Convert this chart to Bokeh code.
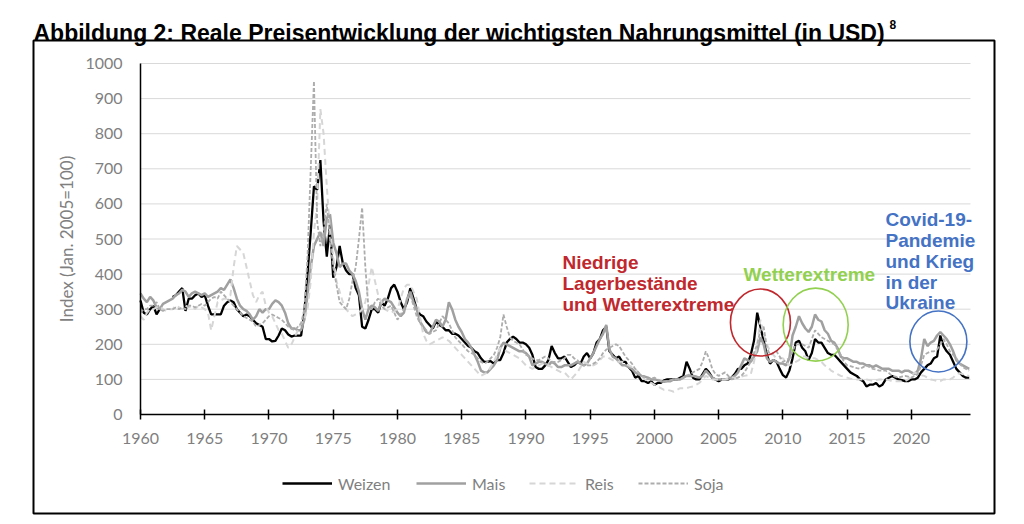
import numpy as np
from bokeh.plotting import figure
from bokeh.models import (Range1d, FixedTicker, Label, BoxAnnotation, Legend,
                          LegendItem, ColumnDataSource)
from bokeh.embed import file_html
from bokeh.resources import INLINE

NaN = float("nan")

# quarterly observations, starting 1960 Q1 (step 0.25 year), ending mid 2024
START_YEAR = 1960
STEP = 0.25

weizen = [
    325, 290, 285, 300,   # 1960
    310, 285, 300, NaN,   # 1961
    NaN, NaN, 335, 340,   # 1962
    350, 360, 295, 330,   # 1963
    330, 340, 345, 335,   # 1964
    340, 310, 285, 285,   # 1965
    285, 285, 310, 320,   # 1966
    325, 320, 300, 290,   # 1967
    280, 285, 280, 270,   # 1968
    260, 255, 250, 215,   # 1969
    215, 208, 210, 225,   # 1970
    245, 240, 228, 222,   # 1971
    225, 225, 225, 290,   # 1972
    400, 520, 650, 640,   # 1973
    725, 550, 450, 540,   # 1974
    390, 420, 480, 430,   # 1975
    410, 400, 400, 360,   # 1976
    340, 250, 245, 270,   # 1977
    300, 300, 290, 320,   # 1978
    310, 330, 360, 370,   # 1979
    350, 320, 300, 320,   # 1980
    360, 330, 300, 285,   # 1981
    280, 265, 255, 245,   # 1982
    265, 255, 250, 240,   # 1983
    240, 230, 230, 225,   # 1984
    215, 205, 195, 190,   # 1985
    180, 175, 160, 150,   # 1986
    150, 152, 145, 155,   # 1987
    155, 175, 205, 215,   # 1988
    222, 215, 205, 205,   # 1989
    200, 190, 170, 135,   # 1990
    130, 130, 140, 155,   # 1991
    195, 175, 160, 160,   # 1992
    165, 150, 135, 140,   # 1993
    150, 145, 165, 175,   # 1994
    160, 175, 205, 215,   # 1995
    240, 250, 180, 170,   # 1996
    160, 165, 150, 150,   # 1997
    135, 125, 105, 110,   # 1998
    95, 95, 90, 95,       # 1999
    85, 90, 90, 97,       # 2000
    100, 100, 100, 100,   # 2001
    105, 110, 150, 130,   # 2002
    105, 100, 100, 115,   # 2003
    130, 120, 105, 100,   # 2004
    95, 100, 100, 100,    # 2005
    105, 115, 130, 130,   # 2006
    140, 145, 170, 210,   # 2007
    290, 250, 210, 170,   # 2008
    145, 155, 150, 130,   # 2009
    112, 105, 125, 160,   # 2010
    205, 210, 190, 180,   # 2011
    155, 175, 215, 205,   # 2012
    205, 190, 175, 170,   # 2013
    170, 160, 150, 140,   # 2014
    130, 120, 115, 110,   # 2015
    100, 95, 80, 85,      # 2016
    85, 90, 80, 85,       # 2017
    100, 105, 110, 105,   # 2018
    100, 98, 95, 95,      # 2019
    100, 100, 105, 120,   # 2020
    130, 140, 145, 160,   # 2021
    165, 225, 195, 180,   # 2022
    170, 150, 130, 120,   # 2023
    110, 105, 105,        # 2024
]

mais = [
    345, 330, 320, 335,   # 1960
    325, 305, 300, 315,   # 1961
    320, 325, 330, 340,   # 1962
    345, 355, 350, 335,   # 1963
    345, 350, 345, 340,   # 1964
    345, 335, 340, 345,   # 1965
    350, 360, 355, 370,   # 1966
    385, 360, 330, 310,   # 1967
    300, 295, 285, 270,   # 1968
    280, 300, 290, 300,   # 1969
    300, 315, 325, 320,   # 1970
    310, 290, 260, 245,   # 1971
    245, 240, 240, 270,   # 1972
    340, 420, 480, 500,   # 1973
    520, 480, 560, 570,   # 1974
    490, 460, 420, 430,   # 1975
    430, 410, 400, 380,   # 1976
    350, 300, 270, 300,   # 1977
    310, 305, 295, 320,   # 1978
    330, 325, 320, 305,   # 1979
    290, 280, 290, 330,   # 1980
    350, 320, 300, 265,   # 1981
    250, 235, 230, 250,   # 1982
    270, 265, 250, 270,   # 1983
    320, 300, 270, 250,   # 1984
    235, 215, 205, 190,   # 1985
    170, 150, 125, 120,   # 1986
    120, 130, 140, 155,   # 1987
    190, 205, 200, 195,   # 1988
    190, 185, 180, 180,   # 1989
    175, 165, 140, 145,   # 1990
    150, 150, 145, 140,   # 1991
    150, 145, 135, 135,   # 1992
    140, 140, 140, 145,   # 1993
    150, 145, 140, 145,   # 1994
    160, 175, 195, 215,   # 1995
    230, 255, 185, 165,   # 1996
    160, 150, 140, 140,   # 1997
    135, 130, 120, 115,   # 1998
    110, 108, 105, 100,   # 1999
    100, 98, 95, 93,      # 2000
    95, 95, 100, 100,     # 2001
    100, 105, 110, 110,   # 2002
    110, 108, 105, 110,   # 2003
    125, 115, 105, 100,   # 2004
    100, 100, 100, 102,   # 2005
    105, 110, 120, 140,   # 2006
    160, 155, 150, 165,   # 2007
    180, 220, 200, 160,   # 2008
    150, 155, 150, 145,   # 2009
    145, 140, 160, 225,   # 2010
    250, 280, 260, 245,   # 2011
    235, 250, 285, 270,   # 2012
    265, 240, 230, 210,   # 2013
    205, 190, 165, 160,   # 2014
    160, 155, 150, 150,   # 2015
    145, 145, 140, 140,   # 2016
    135, 140, 135, 130,   # 2017
    130, 130, 125, 125,   # 2018
    125, 120, 125, 125,   # 2019
    120, 115, 125, 160,   # 2020
    215, 195, 205, 210,   # 2021
    225, 235, 225, 215,   # 2022
    200, 180, 155, 145,   # 2023
    140, 135, 130,        # 2024
]

reis = [
    280, 270, 290, 300,   # 1960
    300, 305, 310, 300,   # 1961
    295, 300, 300, 310,   # 1962
    305, 300, 310, 305,   # 1963
    310, 300, 310, 305,   # 1964
    300, 290, 240, 280,   # 1965
    320, 325, 330, 330,   # 1966
    340, 420, 480, 470,   # 1967
    460, 420, 380, 340,   # 1968
    320, 340, 350, 310,   # 1969
    290, 280, 260, 240,   # 1970
    230, 210, 190, 200,   # 1971
    220, 240, 260, 270,   # 1972
    300, 380, 520, 600,   # 1973
    870, 800, 650, 520,   # 1974
    450, 380, 350, 320,   # 1975
    300, 290, 280, 285,   # 1976
    290, 300, 320, 370,   # 1977
    420, 380, 340, 320,   # 1978
    300, 295, 290, 295,   # 1979
    300, 330, 360, 370,   # 1980
    370, 350, 330, 280,   # 1981
    230, 210, 200, 205,   # 1982
    210, 215, 220, 215,   # 1983
    210, 200, 190, 180,   # 1984
    170, 160, 150, 140,   # 1985
    130, 120, 110, 115,   # 1986
    120, 135, 150, 170,   # 1987
    190, 185, 180, 175,   # 1988
    170, 165, 160, 150,   # 1989
    140, 135, 130, 135,   # 1990
    140, 145, 145, 140,   # 1991
    135, 130, 125, 120,   # 1992
    120, 110, 100, 110,   # 1993
    120, 135, 150, 145,   # 1994
    140, 140, 145, 155,   # 1995
    165, 165, 160, 155,   # 1996
    150, 150, 150, 145,   # 1997
    140, 135, 130, 120,   # 1998
    110, 100, 95, 90,     # 1999
    85, 80, 75, 70,       # 2000
    70, 68, 65, 70,       # 2001
    75, 75, 75, 78,       # 2002
    80, 85, 90, 100,      # 2003
    110, 105, 100, 100,   # 2004
    100, 100, 100, 102,   # 2005
    105, 105, 105, 108,   # 2006
    110, 112, 115, 150,   # 2007
    200, 270, 230, 200,   # 2008
    180, 170, 160, 160,   # 2009
    160, 150, 140, 145,   # 2010
    150, 155, 165, 165,   # 2011
    160, 160, 160, 155,   # 2012
    150, 140, 135, 125,   # 2013
    120, 115, 110, 108,   # 2014
    105, 102, 100, 100,   # 2015
    100, 100, 100, 98,    # 2016
    95, 98, 100, 100,     # 2017
    100, 98, 95, 95,      # 2018
    95, 95, 95, 100,      # 2019
    110, 120, 115, 112,   # 2020
    110, 105, 100, 98,    # 2021
    95, 95, 100, 100,     # 2022
    100, 105, 115, 118,   # 2023
    115, 112, 110,        # 2024
]

soja = [
    290, 300, 300, 310,   # 1960
    310, 320, 300, 295,   # 1961
    300, 300, 300, 305,   # 1962
    300, 305, 300, 310,   # 1963
    310, 305, 310, 315,   # 1964
    310, 320, 330, 335,   # 1965
    330, 350, 340, 330,   # 1966
    320, 310, 300, 290,   # 1967
    280, 275, 270, 265,   # 1968
    250, 255, 260, 270,   # 1969
    280, 285, 280, 275,   # 1970
    270, 260, 250, 245,   # 1971
    240, 250, 260, 300,   # 1972
    450, 700, 950, 550,   # 1973
    480, 520, 600, 500,   # 1974
    420, 370, 320, 310,   # 1975
    300, 330, 380, 420,   # 1976
    500, 590, 420, 300,   # 1977
    300, 320, 330, 310,   # 1978
    300, 305, 310, 290,   # 1979
    270, 285, 300, 330,   # 1980
    340, 310, 280, 260,   # 1981
    250, 240, 230, 235,   # 1982
    240, 260, 280, 270,   # 1983
    260, 240, 220, 210,   # 1984
    200, 190, 180, 175,   # 1985
    170, 160, 150, 145,   # 1986
    150, 160, 170, 190,   # 1987
    220, 285, 250, 220,   # 1988
    210, 205, 200, 185,   # 1989
    170, 165, 160, 155,   # 1990
    155, 160, 165, 160,   # 1991
    150, 150, 150, 155,   # 1992
    160, 170, 170, 160,   # 1993
    155, 145, 140, 140,   # 1994
    140, 145, 150, 160,   # 1995
    175, 185, 190, 195,   # 1996
    200, 195, 180, 165,   # 1997
    155, 145, 130, 120,   # 1998
    110, 105, 100, 102,   # 1999
    105, 100, 95, 95,     # 2000
    95, 98, 100, 100,     # 2001
    100, 105, 110, 115,   # 2002
    120, 125, 130, 150,   # 2003
    180, 160, 130, 115,   # 2004
    110, 115, 120, 110,   # 2005
    100, 102, 105, 110,   # 2006
    120, 135, 150, 175,   # 2007
    200, 240, 250, 190,   # 2008
    170, 175, 180, 165,   # 2009
    150, 155, 160, 180,   # 2010
    200, 200, 200, 195,   # 2011
    190, 215, 240, 230,   # 2012
    220, 215, 210, 205,   # 2013
    200, 185, 170, 150,   # 2014
    140, 138, 135, 132,   # 2015
    130, 135, 140, 135,   # 2016
    130, 128, 125, 125,   # 2017
    125, 118, 110, 108,   # 2018
    105, 108, 110, 108,   # 2019
    105, 110, 115, 140,   # 2020
    170, 175, 180, 180,   # 2021
    185, 200, 215, 200,   # 2022
    180, 170, 160, 145,   # 2023
    135, 130, 125,        # 2024
]

series_names = ["Weizen", "Mais", "Reis", "Soja"]
x_ticks = [1960, 1965, 1970, 1975, 1980, 1985, 1990, 1995, 2000, 2005, 2010, 2015, 2020]
y_ticks = [0, 100, 200, 300, 400, 500, 600, 700, 800, 900, 1000]
x_span = (1960, 2024.6)
y_span = (0, 1000)

title_text = "Abbildung 2: Reale Preisentwicklung der wichtigsten Nahrungsmittel (in USD)"
footnote = "8"
y_label = "Index (Jan. 2005=100)"

red_lines = ["Niedrige", "Lagerbestände", "und Wetterextreme"]
green_lines = ["Wetterextreme"]
blue_lines = ["Covid-19-", "Pandemie", "und Krieg", "in der", "Ukraine"]

# highlighted episodes (centre year, centre index value)
circle_x = [2008.25, 2012.55, 2022.1]
circle_y = [262, 256, 208]

# ---------------- layout (pixels on the page) ----------------
W, H = 1010, 520
PL, PR, PT, PB = 140, 970, 63, 414      # plot area inside the chart box

def sx(px):            # page x -> screen units of the (full-canvas) frame
    return px

def sy(py):            # page y (top-down) -> screen units (bottom-up)
    return H - py

x_scale = (PR - PL) / (x_span[1] - x_span[0])
y_scale = (PB - PT) / (y_span[1] - y_span[0])
x_range = Range1d(x_span[0] - PL / x_scale, x_span[1] + (W - PR) / x_scale)
y_range = Range1d(y_span[0] - (H - PB) / y_scale, y_span[1] + PT / y_scale)

years = START_YEAR + STEP * np.arange(len(weizen))

SANS = "Lato"
GREY = "#7f7f7f"

p = figure(width=W, height=H, output_backend="svg", toolbar_location=None,
           x_range=x_range, y_range=y_range,
           min_border_left=0, min_border_right=0, min_border_top=0,
           min_border_bottom=0)
p.outline_line_color = None
p.background_fill_color = "white"
p.border_fill_color = "white"
p.xgrid.visible = False
p.ygrid.visible = False

# horizontal grid lines, limited to the plot area
grid_vals = y_ticks[1:]
p.segment(x0=[x_span[0]] * len(grid_vals), x1=[x_span[1]] * len(grid_vals),
          y0=grid_vals, y1=grid_vals, line_color="#d9d9d9", line_width=1)

# axes drawn at fixed locations inside the canvas
p.yaxis.fixed_location = x_span[0]
p.yaxis.bounds = y_span
p.yaxis.ticker = FixedTicker(ticks=y_ticks)
p.yaxis.axis_line_color = "black"
p.yaxis.axis_line_width = 1.5
p.yaxis.major_tick_in = 0
p.yaxis.major_tick_out = 0
p.yaxis.minor_tick_line_color = None
p.yaxis.major_label_text_font = SANS
p.yaxis.major_label_text_font_size = "16px"
p.yaxis.major_label_text_color = GREY
p.yaxis.major_label_standoff = 18
p.yaxis.axis_label = y_label
p.yaxis.axis_label_text_font = SANS
p.yaxis.axis_label_text_font_size = "17px"
p.yaxis.axis_label_text_font_style = "normal"
p.yaxis.axis_label_text_color = GREY
p.yaxis.axis_label_standoff = 5

p.xaxis.fixed_location = y_span[0]
p.xaxis.bounds = x_span
p.xaxis.ticker = FixedTicker(ticks=x_ticks)
p.xaxis.axis_line_color = "black"
p.xaxis.axis_line_width = 1.5
p.xaxis.major_tick_in = 5
p.xaxis.major_tick_out = 5
p.xaxis.major_tick_line_color = "black"
p.xaxis.major_tick_line_width = 1.5
p.xaxis.minor_tick_line_color = None
p.xaxis.major_label_text_font = SANS
p.xaxis.major_label_text_font_size = "16px"
p.xaxis.major_label_text_color = GREY
p.xaxis.major_label_standoff = 13

src = ColumnDataSource(dict(x=years,
                            weizen=np.array(weizen, dtype=float),
                            mais=np.array(mais, dtype=float),
                            reis=np.array(reis, dtype=float),
                            soja=np.array(soja, dtype=float)))

styles = {
    "weizen": dict(line_color="black", line_width=2.3),
    "mais": dict(line_color="#a0a0a0", line_width=2.5),
    "reis": dict(line_color="#d6d6d6", line_width=2, line_dash="6 4"),
    "soja": dict(line_color="#adadad", line_width=1.8, line_dash="4 2"),
}
renderers = []
for key in ["weizen", "mais", "reis", "soja"]:
    r = p.line("x", key, source=src, **styles[key])
    renderers.append(r)

# highlight circles
circle_colors = ["#c0282d", "#92d050", "#4472c4"]
circle_w = [60, 65, 57]
circle_h = [67, 73, 61]
for cx, cy, cc, cw, ch in zip(circle_x, circle_y, circle_colors, circle_w, circle_h):
    p.ellipse(x=cx, y=cy, width=cw, height=ch, width_units="screen",
              height_units="screen", fill_color=None, line_color=cc, line_width=1.6)

def add_text(text, px, py, size, color, bold=True, font="Liberation Sans"):
    p.add_layout(Label(x=sx(px), y=sy(py), x_units="screen", y_units="screen",
                       text=text, text_font=font,
                       text_font_style="bold" if bold else "normal",
                       text_font_size=size, text_color=color,
                       text_baseline="alphabetic", text_align="left"))

for t, b in zip(red_lines, [261.5, 283, 304]):
    add_text(t, 562, b, "19px", "#c0282d")
for t, b in zip(green_lines, [273.5]):
    add_text(t, 743, b, "19px", "#92d050")
for t, b in zip(blue_lines, [219, 240, 260.5, 281.5, 302]):
    add_text(t, 885, b, "19px", "#4472c4")

# title and footnote mark
add_text(title_text, 33, 32, "23px", "black")
add_text(footnote, 889, 24, "12px", "black")

# outer chart box
p.add_layout(BoxAnnotation(left=sx(33), right=sx(994), top=sy(40), bottom=sy(513),
                           left_units="screen", right_units="screen",
                           top_units="screen", bottom_units="screen",
                           fill_alpha=0, fill_color=None, line_color="black",
                           line_alpha=1.0, line_width=2))

# legend: one box per item for exact placement
leg_x = [282, 416, 529, 638]
for name, r, lx in zip(series_names, renderers, leg_x):
    lg = Legend(items=[LegendItem(label=name, renderers=[r])],
                location=(sx(lx), sy(493)),
                orientation="horizontal", glyph_width=50, glyph_height=20,
                label_standoff=6, padding=0, margin=0, spacing=0,
                border_line_color=None, background_fill_alpha=0,
                label_text_font=SANS, label_text_font_size="16px",
                label_text_color=GREY)
    p.add_layout(lg)

open("out.html", "w").write(file_html(p, INLINE))
